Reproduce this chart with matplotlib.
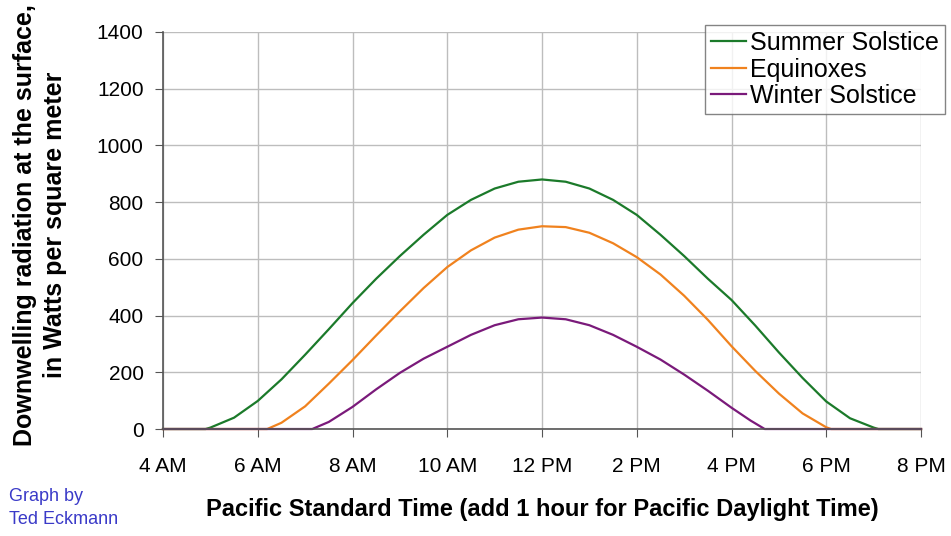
import matplotlib
matplotlib.use("Agg")
import matplotlib.pyplot as plt

plt.rcParams['font.family'] = ['Liberation Sans', 'DejaVu Sans']

# hours (decimal, Pacific Standard Time)
summer_hours = [4, 4.9, 5.0, 5.5, 6.0, 6.5, 7.0, 7.5, 8.0, 8.5, 9.0, 9.5, 10.0, 10.5, 11.0, 11.5,
                12.0, 12.5, 13.0, 13.5, 14.0, 14.5, 15.0, 15.5, 16.0, 16.5, 17.0, 17.5, 18.0,
                18.5, 19.0, 19.1, 20]
summer_vals = [0, 0, 5, 40, 99, 175, 262, 352, 444, 530, 610, 685, 755, 808, 848, 872,
               880, 872, 848, 808, 755, 685, 610, 530, 455, 365, 270, 180, 97,
               38, 5, 0, 0]

equinox_hours = [4, 6.2, 6.5, 7.0, 7.5, 8.0, 8.5, 9.0, 9.5, 10.0, 10.5, 11.0, 11.5, 12.0,
                 12.5, 13.0, 13.5, 14.0, 14.5, 15.0, 15.5, 16.0, 16.5, 17.0, 17.5, 18.0, 18.1, 20]
equinox_vals = [0, 0, 22, 80, 160, 243, 330, 415, 497, 571, 630, 675, 703, 715,
                712, 692, 655, 606, 545, 470, 385, 292, 205, 125, 55, 6, 0, 0]

winter_hours = [4, 7.15, 7.5, 8.0, 8.5, 9.0, 9.5, 10.0, 10.5, 11.0, 11.5, 12.0, 12.5, 13.0,
                13.5, 14.0, 14.5, 15.0, 15.5, 16.0, 16.4, 16.7, 20]
winter_vals = [0, 0, 25, 78, 140, 198, 248, 290, 332, 366, 387, 393, 387, 366,
               332, 290, 245, 192, 135, 75, 30, 0, 0]

series_names = ["Summer Solstice", "Equinoxes", "Winter Solstice"]
series_colors = ["#1b7a2a", "#f0821e", "#7a1a7a"]

x_ticks = [4, 6, 8, 10, 12, 14, 16, 18, 20]
x_labels = ["4 AM", "6 AM", "8 AM", "10 AM", "12 PM", "2 PM", "4 PM", "6 PM", "8 PM"]
y_ticks = [0, 200, 400, 600, 800, 1000, 1200, 1400]

fig = plt.figure(figsize=(9.51, 5.36), dpi=100)
ax = fig.add_axes([0.1714, 0.1996, 0.7971, 0.7407])

for h, v, name, c in zip([summer_hours, equinox_hours, winter_hours],
                         [summer_vals, equinox_vals, winter_vals],
                         series_names, series_colors):
    ax.plot(h, v, color=c, lw=1.6, label=name, clip_on=False)

ax.set_xlim(4, 20)
ax.set_ylim(0, 1400)
ax.set_xticks(x_ticks)
ax.set_xticklabels(x_labels)
ax.set_yticks(y_ticks)
ax.grid(True, color="#bdbdbd", lw=1.0)
ax.set_axisbelow(True)
for s in ["top", "right"]:
    ax.spines[s].set_visible(False)
for s in ["left", "bottom"]:
    ax.spines[s].set_color("#555555")
    ax.spines[s].set_linewidth(1.2)
ax.tick_params(axis="both", labelsize=15, length=6, color="#555555")
ax.tick_params(axis="x", pad=14)
ax.tick_params(axis="y", pad=8)

ax.set_xlabel("Pacific Standard Time (add 1 hour for Pacific Daylight Time)",
              fontsize=17, fontweight="bold", va="top")
ax.xaxis.set_label_coords(0.5, -0.175)
ax.set_ylabel("Downwelling radiation at the surface,\nin Watts per square meter",
              fontsize=18, fontweight="bold", linespacing=1.3)
ax.yaxis.set_label_coords(-0.127, 0.514)

leg = ax.legend(loc="upper right", bbox_to_anchor=(1.032, 1.018), fontsize=18,
                frameon=True, fancybox=False, edgecolor="#666666", handlelength=1.4,
                handletextpad=0.15, borderpad=0.25, labelspacing=0.1, borderaxespad=0)
leg.get_frame().set_linewidth(1.0)

fig.text(0.009, 0.015, "Graph by\nTed Eckmann", color="#3a3ac8", fontsize=13,
         ha="left", va="bottom", linespacing=1.45)

fig.savefig("out.png", dpi=100, facecolor="white")
